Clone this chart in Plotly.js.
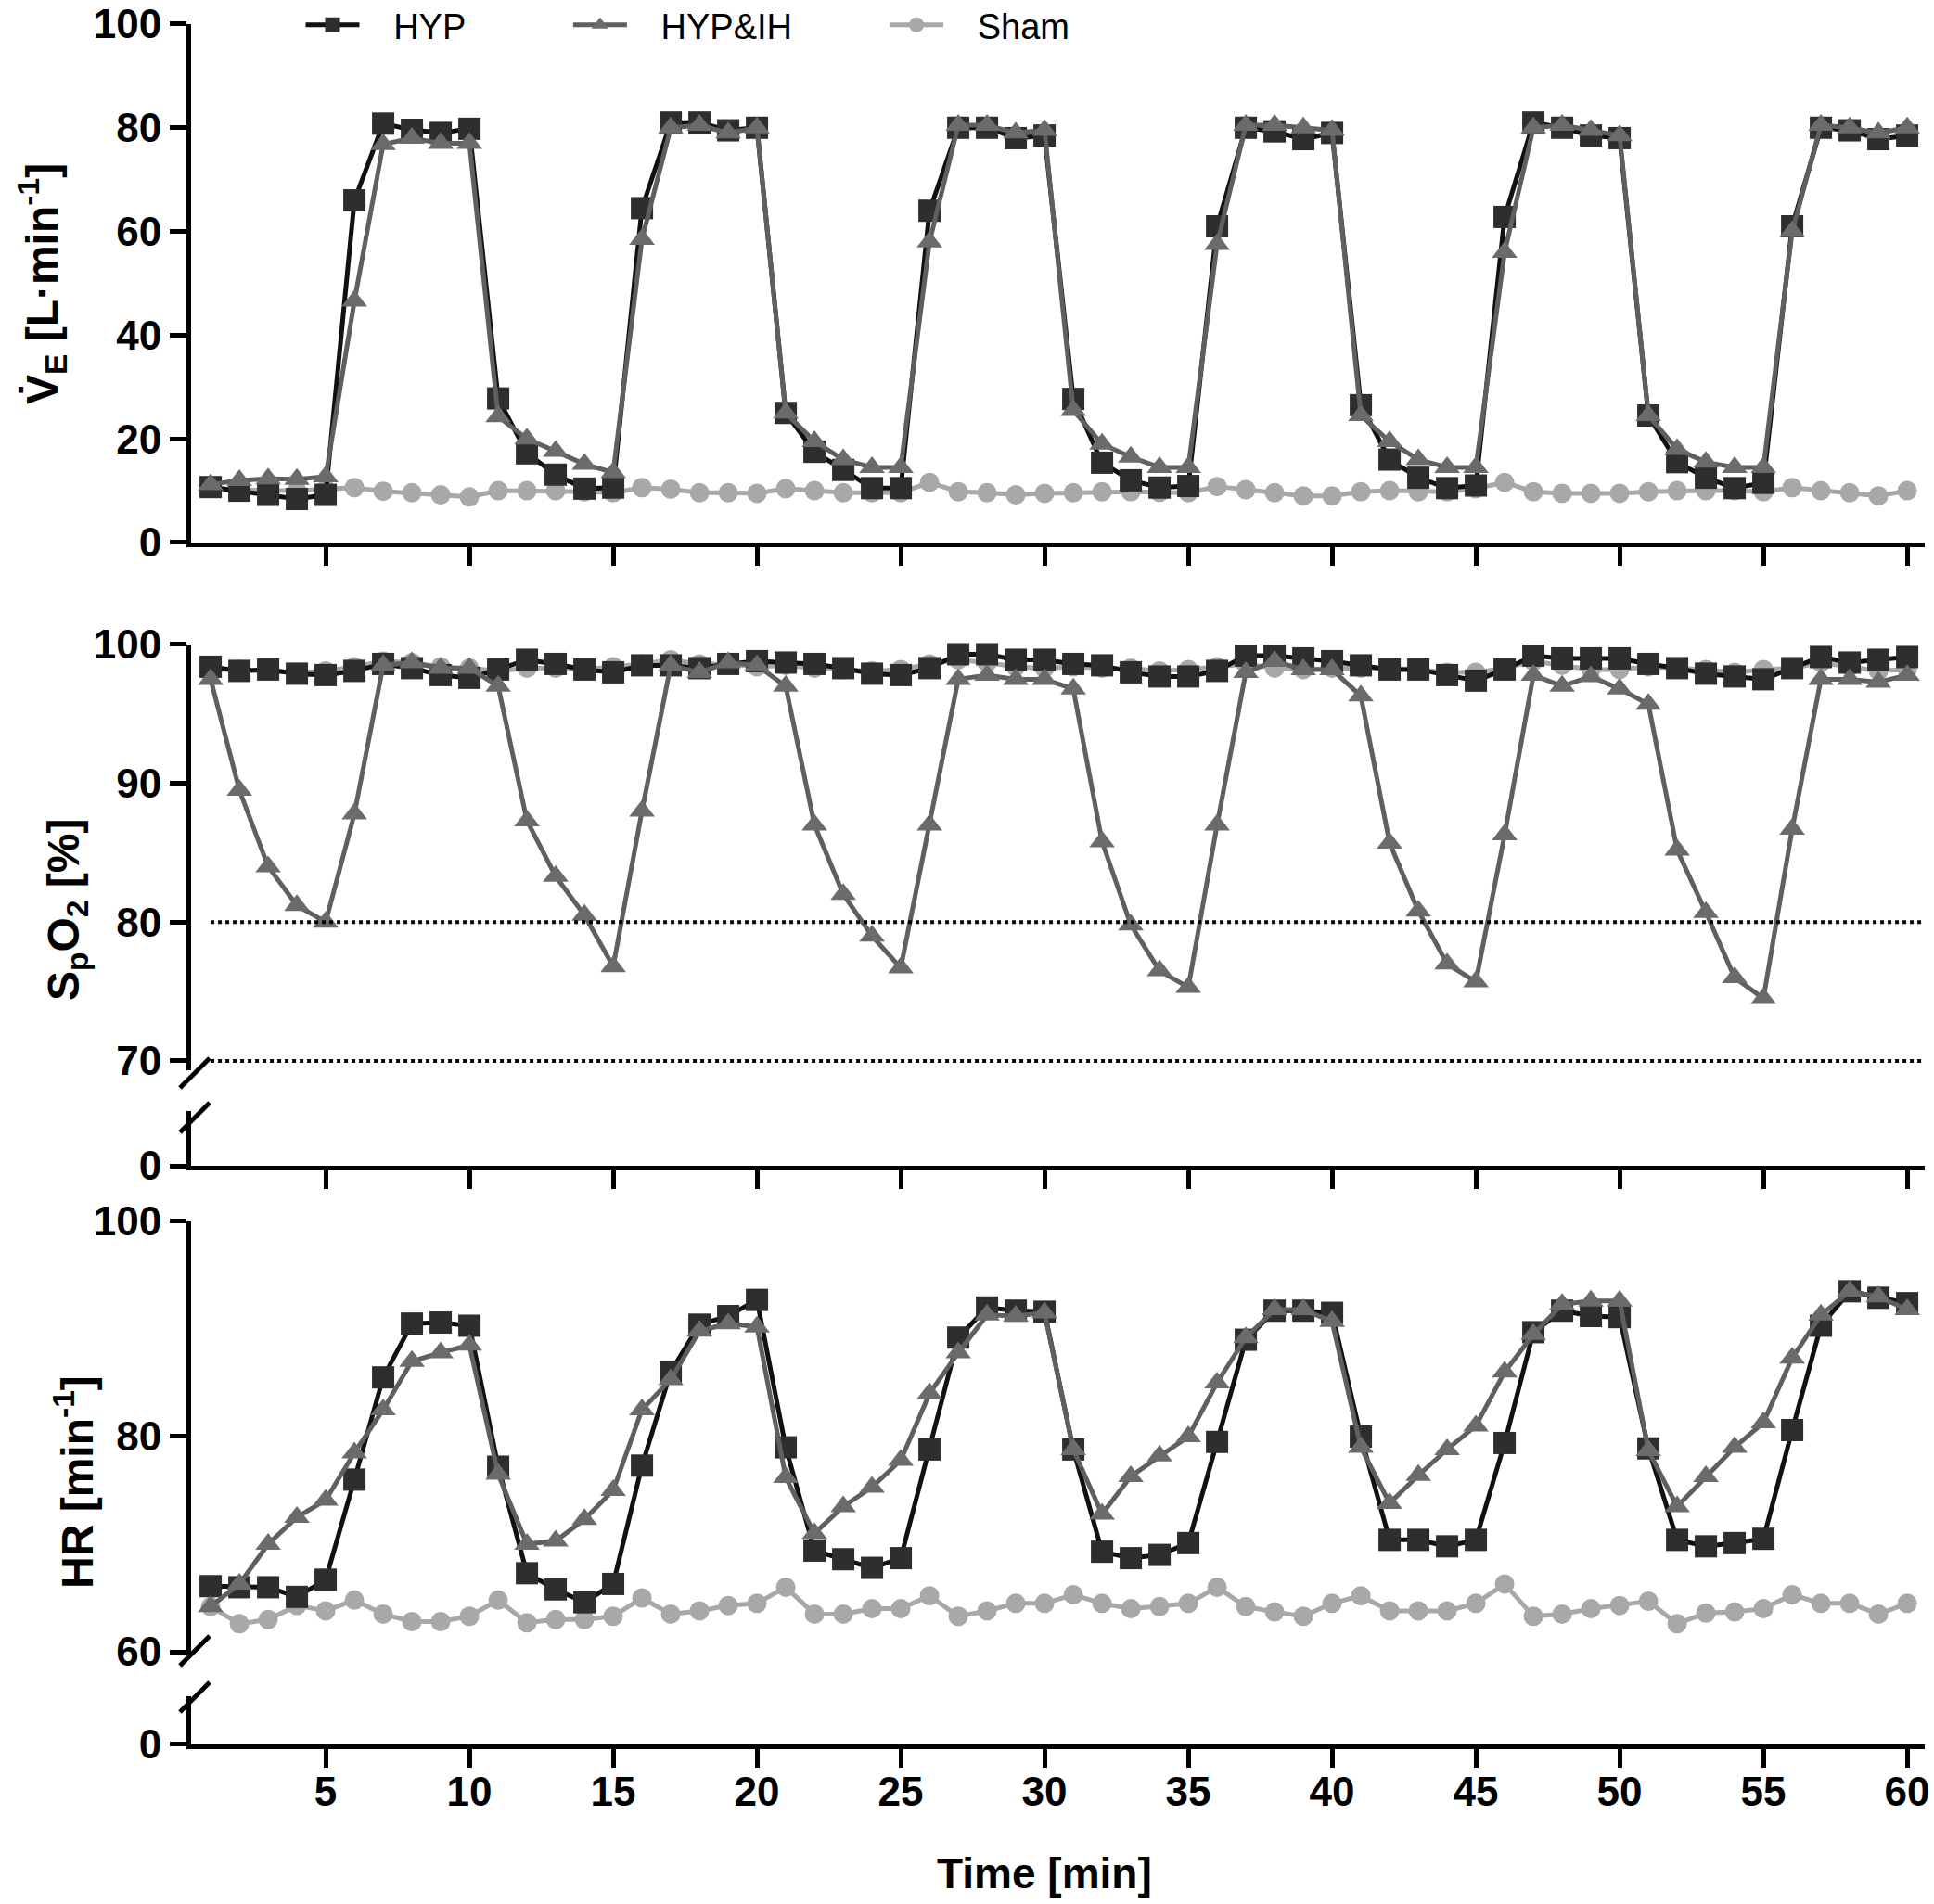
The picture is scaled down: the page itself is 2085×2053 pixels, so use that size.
<!DOCTYPE html>
<html>
<head>
<meta charset="utf-8">
<script src="https://cdn.plot.ly/plotly-3.0.1.min.js"></script>
<style>
  html, body { margin: 0; padding: 0; background: #fff; }
  #chart { width: 2085px; height: 2053px; }
</style>
</head>
<body>
<div id="chart"></div>
<script>
// time points [min]
const minutes = [1, 2, 3, 4, 5, 6, 7, 8, 9, 10, 11, 12, 13, 14, 15, 16, 17, 18, 19, 20,
  21, 22, 23, 24, 25, 26, 27, 28, 29, 30, 31, 32, 33, 34, 35, 36, 37, 38, 39, 40,
  41, 42, 43, 44, 45, 46, 47, 48, 49, 50, 51, 52, 53, 54, 55, 56, 57, 58, 59, 60];

// ventilation [L/min]
const veHyp = [10.7, 10.0, 9.2, 8.4, 9.2, 66, 80.8, 79.6, 79, 79.8,
  27.8, 17.2, 13.1, 10.4, 10.6, 64.5, 81, 81, 79.5, 80,
  25, 17.5, 14, 10.5, 10.5, 64, 80, 80, 78, 78.5,
  27.7, 15.4, 12, 10.6, 10.9, 61, 80, 79.3, 77.8, 79,
  26.5, 16, 12.5, 10.5, 11, 62.8, 81, 80, 78.5, 78,
  24.5, 15.5, 12.5, 10.5, 11.5, 61, 80, 79.5, 77.8, 78.5];
const veHypIh = [11.2, 12.0, 12.3, 12.2, 12.7, 46.6, 76.8, 78, 77, 77,
  24.3, 20, 17.6, 15.1, 13.5, 58.5, 80, 80.5, 79, 80,
  25, 19.5, 16, 14.5, 14.5, 58, 80.5, 80.5, 79, 79.5,
  25.5, 19, 16.5, 14.5, 14.5, 57.5, 80.5, 80.5, 80, 79.5,
  24.5, 19.5, 16, 14.5, 14.5, 56, 80, 80.5, 79.5, 78.5,
  24.5, 18, 15.5, 14.5, 14.5, 60, 80.5, 80, 79, 80];
const veSham = [10.5, 10.2, 10, 10, 10.2, 10.6, 9.9, 9.6, 9.2, 8.8,
  10, 10, 10, 9.8, 9.6, 10.6, 10.3, 9.6, 9.6, 9.5,
  10.4, 10, 9.6, 9.6, 9.6, 11.6, 9.8, 9.6, 9.2, 9.5,
  9.6, 9.8, 9.8, 9.7, 9.6, 10.8, 10.2, 9.6, 9, 9,
  9.8, 10, 9.8, 9.8, 10.4, 11.6, 9.8, 9.5, 9.5, 9.5,
  9.8, 10, 10, 10, 9.8, 10.6, 10, 9.6, 9, 10];

// oxygen saturation [%]
const spo2Hyp = [98.4, 98.1, 98.2, 97.9, 97.8, 98.1, 98.6, 98.3, 97.8, 97.6,
  98.2, 98.9, 98.6, 98.2, 98, 98.5, 98.5, 98.3, 98.6, 98.8,
  98.7, 98.6, 98.3, 97.9, 97.8, 98.3, 99.3, 99.3, 98.9, 98.9,
  98.6, 98.5, 98, 97.7, 97.7, 98.1, 99.2, 99.2, 99, 98.8,
  98.5, 98.2, 98.2, 97.8, 97.4, 98.2, 99.2, 99, 99, 99,
  98.6, 98.3, 97.9, 97.7, 97.5, 98.3, 99.1, 98.7, 98.9, 99.1];
const spo2HypIh = [97.5, 89.5, 84, 81.2, 80, 87.8, 98.5, 98.7, 98.3, 98.3,
  97, 87.3, 83.3, 80.5, 76.8, 88, 98.5, 98, 98.7, 98.5,
  97, 87, 82, 79, 76.7, 87, 97.5, 97.8, 97.5, 97.5,
  96.8, 85.8, 79.8, 76.5, 75.3, 87, 98, 98.8, 98.2, 98.2,
  96.3, 85.7, 80.8, 77, 75.7, 86.3, 97.8, 97, 97.7, 96.8,
  95.7, 85.2, 80.7, 76, 74.5, 86.7, 97.5, 97.5, 97.3, 97.8];
const spo2Sham = [98.2, 98.2, 98.1, 98, 98.1, 98.4, 98.8, 98.7, 98.4, 98.3,
  98.1, 98.3, 98.3, 98.2, 98.4, 98.6, 98.9, 98.6, 98.6, 98.4,
  98.5, 98.3, 98.2, 98.1, 98.2, 98.6, 98.9, 98.7, 98.4, 98.3,
  98.4, 98.3, 98.3, 98.1, 98.2, 98.4, 98.6, 98.3, 98.2, 98.3,
  98.3, 98.3, 98.2, 98, 98, 98.3, 98.8, 98.5, 98.2, 98.2,
  98.4, 98.3, 98.2, 98, 98.2, 98.3, 98.7, 98.4, 98.1, 98.2];

// heart rate [1/min]
const hrHyp = [66.1, 66, 66, 65.1, 66.7, 76, 85.5, 90.5, 90.6, 90.3,
  77.2, 67.3, 65.8, 64.6, 66.3, 77.3, 86, 90.4, 91.2, 92.7,
  79, 69.4, 68.6, 67.8, 68.7, 78.8, 89.2, 92, 91.7, 91.6,
  78.8, 69.3, 68.7, 69, 70.1, 79.5, 89, 91.7, 91.7, 91.5,
  80, 70.4, 70.4, 69.8, 70.4, 79.4, 89.7, 91.7, 91.2, 91.1,
  78.9, 70.4, 69.8, 70.1, 70.5, 80.6, 90.3, 93.5, 92.9, 92.4];
const hrHypIh = [64.2, 66.3, 70, 72.5, 74.1, 78.5, 82.5, 87, 87.8, 88.5,
  76.5, 70, 70.3, 72.3, 75, 82.5, 85.3, 89.8, 90.5, 90.2,
  76.2, 71, 73.5, 75.3, 77.8, 84, 87.8, 91.3, 91.2, 91.5,
  78.8, 72.8, 76.3, 78.2, 80, 85, 89.2, 91.8, 91.8, 90.7,
  79, 73.8, 76.4, 78.8, 81, 86, 89.5, 92.3, 92.6, 92.6,
  78.7, 73.5, 76.3, 79, 81.3, 87.3, 91.3, 93.5, 93, 91.8];
const hrSham = [64.2, 62.6, 63, 64.3, 63.8, 64.8, 63.5, 62.8, 62.8, 63.3,
  64.8, 62.7, 63, 63, 63.3, 65, 63.5, 63.8, 64.3, 64.5,
  66, 63.5, 63.5, 64, 64, 65.2, 63.3, 63.8, 64.5, 64.5,
  65.3, 64.5, 64, 64.2, 64.5, 66, 64.2, 63.7, 63.3, 64.5,
  65.2, 63.8, 63.8, 63.8, 64.5, 66.3, 63.3, 63.5, 64, 64.3,
  64.7, 62.6, 63.6, 63.7, 64, 65.3, 64.5, 64.5, 63.5, 64.5];

// ticks and reference lines
const timeTicks = [5, 10, 15, 20, 25, 30, 35, 40, 45, 50, 55, 60];
const veTicks = [0, 20, 40, 60, 80, 100];
const spo2Ticks = [70, 80, 90, 100];
const hrTicks = [60, 80, 100];
const brokenTicks = [0];
const spo2Lines = [80, 70];

// legend spacing is done with non-breaking spaces around the names
const nb = (n) => "\u00a0".repeat(n);
const groups = [
  { name: "HYP", symbol: "square", line: "#111111", marker: "#2e2e2e", size: 24, rank: 1, tail: 10 },
  { name: "HYP&IH", symbol: "triangle-up", line: "#5f5f5f", marker: "#6b6b6b", size: 24, rank: 2, tail: 9 },
  { name: "Sham", symbol: "circle", line: "#a8a8a8", marker: "#a8a8a8", size: 21, rank: 3, tail: 0 },
];

function serie(g, y, xa, ya, legend) {
  return {
    x: minutes,
    y: y,
    xaxis: xa,
    yaxis: ya,
    name: nb(3) + g.name + nb(g.tail),
    legendgroup: g.name,
    legendrank: g.rank,
    showlegend: legend,
    type: "scatter",
    mode: "lines+markers",
    cliponaxis: false,
    line: { color: g.line, width: 5 },
    marker: { symbol: g.symbol, size: g.size, color: g.marker, line: { width: 0 } },
    hoverinfo: "skip",
  };
}

const hyp = groups[0], ih = groups[1], sham = groups[2];

// sham first so it is drawn underneath
const data = [
  serie(sham, veSham, "x3", "y", true),
  serie(hyp, veHyp, "x3", "y", true),
  serie(ih, veHypIh, "x3", "y", true),
  serie(sham, spo2Sham, "x2", "y2", false),
  serie(hyp, spo2Hyp, "x2", "y2", false),
  serie(ih, spo2HypIh, "x2", "y2", false),
  serie(sham, hrSham, "x", "y4", false),
  serie(hyp, hrHyp, "x", "y4", false),
  serie(ih, hrHypIh, "x", "y4", false),
  // empty traces so the short axis stubs get a subplot
  { x: [], y: [], xaxis: "x2", yaxis: "y3", showlegend: false, type: "scatter" },
  { x: [], y: [], xaxis: "x", yaxis: "y5", showlegend: false, type: "scatter" },
];

const fam = "Liberation Sans, Arial, sans-serif";
const tickFont = { family: fam, size: 44, weight: "bold", color: "#000" };
const titleFont = { family: fam, size: 48, weight: "bold", color: "#000" };

function xAxis(anchor, labels) {
  return {
    anchor: anchor,
    range: [0.32, 60.61],
    tickvals: timeTicks,
    showticklabels: labels,
    ticks: "outside",
    ticklen: 20,
    tickwidth: 5,
    tickcolor: "#000",
    ticklabelstandoff: -12,
    ticklabeloverflow: "allow",
    showline: true,
    linewidth: 5,
    linecolor: "#000",
    showgrid: false,
    zeroline: false,
    tickfont: tickFont,
    automargin: false,
    fixedrange: true,
  };
}

function yAxis(anchor, domain, range, ticks) {
  return {
    anchor: anchor,
    domain: domain,
    range: range,
    tickvals: ticks,
    ticks: "outside",
    ticklen: 18,
    tickwidth: 5,
    tickcolor: "#000",
    ticklabeloverflow: "allow",
    showline: true,
    linewidth: 5,
    linecolor: "#000",
    showgrid: false,
    zeroline: false,
    tickfont: tickFont,
    automargin: false,
    fixedrange: true,
  };
}

function slash(yPaper) {
  return {
    type: "line",
    xref: "paper",
    yref: "paper",
    xsizemode: "pixel",
    ysizemode: "pixel",
    xanchor: 0,
    yanchor: yPaper,
    x0: -12, x1: 20, y0: -16, y1: 16,
    line: { color: "#000", width: 5 },
  };
}

const shapes = spo2Lines.map((v) => ({
  type: "line",
  xref: "x2",
  yref: "y2",
  x0: minutes[0],
  x1: 60.61,
  y0: v,
  y1: v,
  line: { color: "#000", width: 4, dash: "dot" },
}));
shapes.push(slash(0.389), slash(0.3632), slash(0.0543), slash(0.0274));

function yTitle(text, x, y) {
  return {
    text: text,
    xref: "paper",
    yref: "paper",
    x: x,
    y: y,
    xanchor: "center",
    yanchor: "middle",
    textangle: -90,
    showarrow: false,
    font: titleFont,
  };
}

const layout = {
  width: 2085,
  height: 2053,
  // fixed margins: the legend must not push the plot area down
  margin: { l: 206, r: 10, t: 20, b: 172, autoexpand: false },
  paper_bgcolor: "#fff",
  plot_bgcolor: "#fff",
  showlegend: true,
  legend: {
    orientation: "h",
    x: 0.0634,
    xanchor: "left",
    y: 0.9962,
    yanchor: "middle",
    bgcolor: "rgba(0,0,0,0)",
    font: { family: fam, size: 38, color: "#000" },
    itemwidth: 58,
    traceorder: "normal",
    itemclick: false,
  },
  xaxis: xAxis("y5", true),
  xaxis2: xAxis("y3", false),
  xaxis3: xAxis("y", false),
  yaxis: yAxis("x3", [0.6964, 0.9968], [0, 100], veTicks),
  yaxis2: yAxis("x2", [0.3907, 0.6373], [69.33, 100], spo2Ticks),
  yaxis3: yAxis("x2", [0.3353, 0.3670], [0, 5], brokenTicks),
  yaxis4: yAxis("x", [0.0516, 0.3031], [59.66, 100], hrTicks),
  yaxis5: yAxis("x", [0, 0.0279], [0, 5], brokenTicks),
  shapes: shapes,
  annotations: [
    yTitle("V\u0307<sub>E</sub> [L\u00b7min<sup>-1</sup>]", -0.0861, 0.8463),
    yTitle("S<sub>p</sub>O<sub>2</sub> [%]", -0.0717, 0.4841),
    yTitle("HR [min<sup>-1</sup>]", -0.0674, 0.1521),
    {
      text: "Time [min]",
      xref: "paper",
      yref: "paper",
      x: 0.4922,
      y: -0.0747,
      xanchor: "center",
      yanchor: "middle",
      showarrow: false,
      font: { family: fam, size: 46, weight: "bold", color: "#000" },
    },
  ],
};

Plotly.newPlot("chart", data, layout, { displayModeBar: false, staticPlot: true });
</script>
</body>
</html>
